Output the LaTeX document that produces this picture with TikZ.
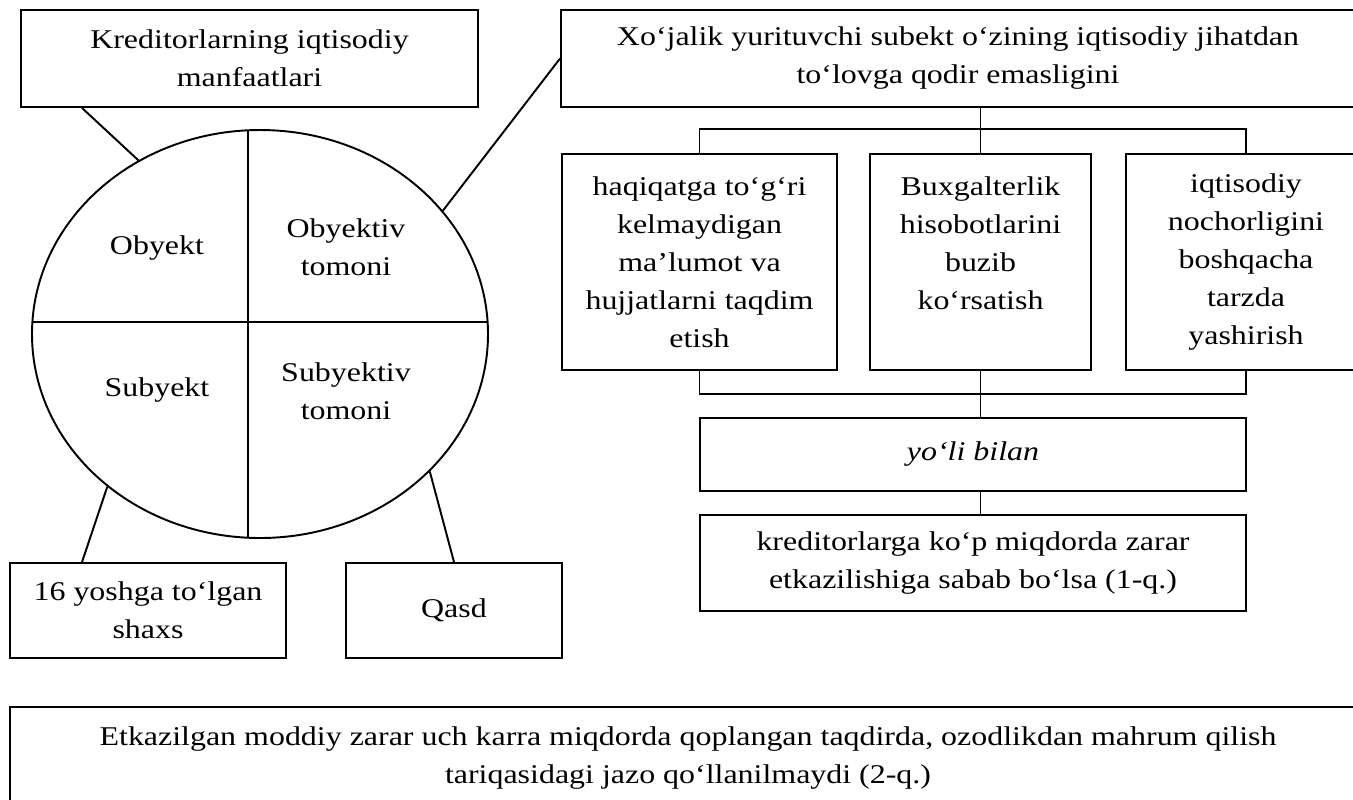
\documentclass[tikz,border=0pt]{standalone}
\usepackage{fontspec}
\setmainfont{Liberation Serif}[FakeStretch=1.18]
\usetikzlibrary{shapes.geometric}

\begin{document}
\begin{tikzpicture}[line width=1.1pt,
  font=\fontsize{15.4}{21.6}\selectfont,
  box/.style={draw, rectangle, inner sep=0pt, align=center},
  oval/.style={draw, ellipse, inner sep=0pt, minimum width=9.12cm, minimum height=8.16cm},
  part/.style={align=center, inner sep=0pt}]
\useasboundingbox (0,0) rectangle (27.06,-15.98);
\clip (0,0) rectangle (27.06,-15.98);
\node[box, minimum width=9.14cm, minimum height=1.94cm] (kred) at (4.99,-1.17) {Kreditorlarning iqtisodiy\\manfaatlari};
\node[box, minimum width=15.88cm, minimum height=1.94cm] (xoj) at (19.16,-1.17) {Xo‘jalik yurituvchi subekt o‘zining iqtisodiy jihatdan\\to‘lovga qodir emasligini};
\node[oval] (ell) at (5.2,-6.68) {};
\draw (4.96,-2.606) -- (4.96,-10.754);
\draw (0.648,-6.44) -- (9.752,-6.44);
\node[part] (obj) at (3.14,-4.96) {Obyekt};
\node[part] (objt) at (6.92,-4.94) {Obyektiv\\tomoni};
\node[part] (sub) at (3.14,-7.8) {Subyekt};
\node[part] (subt) at (6.92,-7.82) {Subyektiv\\tomoni};
\node[box, minimum width=5.52cm, minimum height=1.9cm] (yosh) at (2.96,-12.21) {16 yoshga to‘lgan\\shaxs};
\node[box, minimum width=4.32cm, minimum height=1.9cm] (qasd) at (9.08,-12.21) {Qasd};
\draw ([xshift=1.24cm]kred.south west) -- (ell.125);
\draw (xoj.west) -- (ell.34);
\draw ([xshift=1.46cm]yosh.north west) -- (ell.225);
\draw (qasd.north) -- (ell.321);
\node[box, minimum width=5.5cm, minimum height=4.32cm] (b1) at (13.99,-5.24) {haqiqatga to‘g‘ri\\kelmaydigan\\ma’lumot va\\hujjatlarni taqdim\\etish};
\node[box, minimum width=4.42cm, minimum height=4.32cm] (b2) at (19.61,-5.24) {Buxgalterlik\\hisobotlarini\\buzib\\ko‘rsatish\\\mbox{}};
\node[box, minimum width=4.8cm, minimum height=4.32cm] (b3) at (24.92,-5.24) {iqtisodiy\\nochorligini\\boshqacha\\tarzda\\yashirish};
\draw (xoj.south -| b2.north) -- (b2.north);
\draw (b1.north) -- ++(0,0.48) -| (b3.north);
\draw (b1.south) -- ++(0,-0.46) -| (b3.south);
\node[box, minimum width=10.92cm, minimum height=1.46cm] (yoli) at (19.46,-9.09) {\textit{yo‘li bilan}};
\draw (b2.south) -- (b2.south |- yoli.north);
\node[box, minimum width=10.92cm, minimum height=1.92cm] (zarar) at (19.46,-11.26) {kreditorlarga ko‘p miqdorda zarar\\etkazilishiga sabab bo‘lsa (1-q.)};
\draw (yoli.south -| b2.south) -- (zarar.north -| b2.south);
\node[box, minimum width=27.12cm, minimum height=2.04cm] (jazo) at (13.76,-15.16) {Etkazilgan moddiy zarar uch karra miqdorda qoplangan taqdirda, ozodlikdan mahrum qilish\\tariqasidagi jazo qo‘llanilmaydi (2-q.)};
\end{tikzpicture}
\end{document}
